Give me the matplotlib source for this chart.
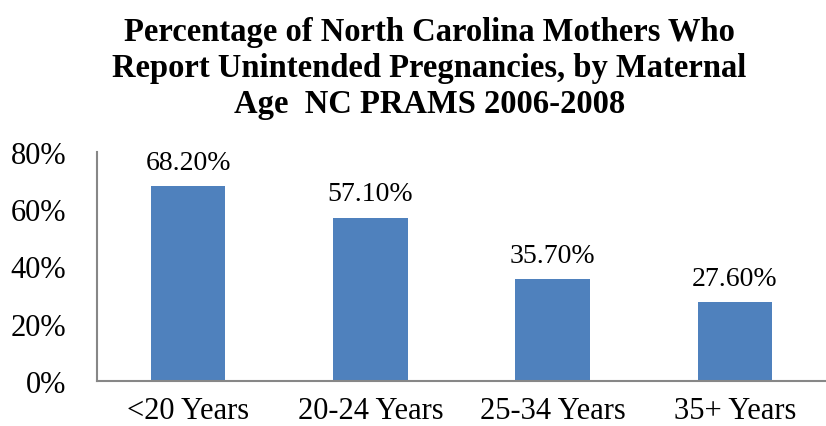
import numpy as np
import matplotlib.pyplot as plt
from matplotlib.ticker import PercentFormatter

# Unintended pregnancy by maternal age, NC PRAMS 2006-2008
age_groups = ["<20 Years", "20-24 Years", "25-34 Years", "35+ Years"]
pct_unintended = [68.2, 57.1, 35.7, 27.6]
y_ticks = [0, 20, 40, 60, 80]

plt.rcParams['font.family'] = ['Liberation Serif', 'DejaVu Serif']

fig = plt.figure(figsize=(8.26, 4.27), dpi=100)
ax = fig.add_axes([0.1174, 0.1054, 0.8826, 0.5363])

x = np.arange(len(age_groups))
bars = ax.bar(x, pct_unintended, width=0.41, color="#4f81bd")

for b, v in zip(bars, pct_unintended):
    ax.text(b.get_x() + b.get_width() / 2, v + 6, f"{v:.2f}%",
            ha="center", va="baseline", fontsize=20)

ax.set_xlim(-0.5, len(age_groups) - 0.5)
ax.set_ylim(0, 80)
ax.set_yticks(y_ticks)
ax.yaxis.set_major_formatter(PercentFormatter(decimals=0))
ax.set_xticks(x, age_groups)
ax.tick_params(axis="both", length=0, labelsize=22)
ax.tick_params(axis="x", pad=11)
ax.tick_params(axis="y", pad=22)

for side in ["top", "right"]:
    ax.spines[side].set_visible(False)
for side in ["left", "bottom"]:
    ax.spines[side].set_color("#878787")
    ax.spines[side].set_linewidth(1.5)

fig.text(0.52, 1 - 17 / 427,
         "Percentage of North Carolina Mothers Who\n"
         "Report Unintended Pregnancies, by Maternal\n"
         "Age  NC PRAMS 2006-2008",
         ha="center", va="top", fontsize=23.5, fontweight="bold",
         linespacing=1.2, multialignment="center")

fig.savefig("out.png", dpi=100)
